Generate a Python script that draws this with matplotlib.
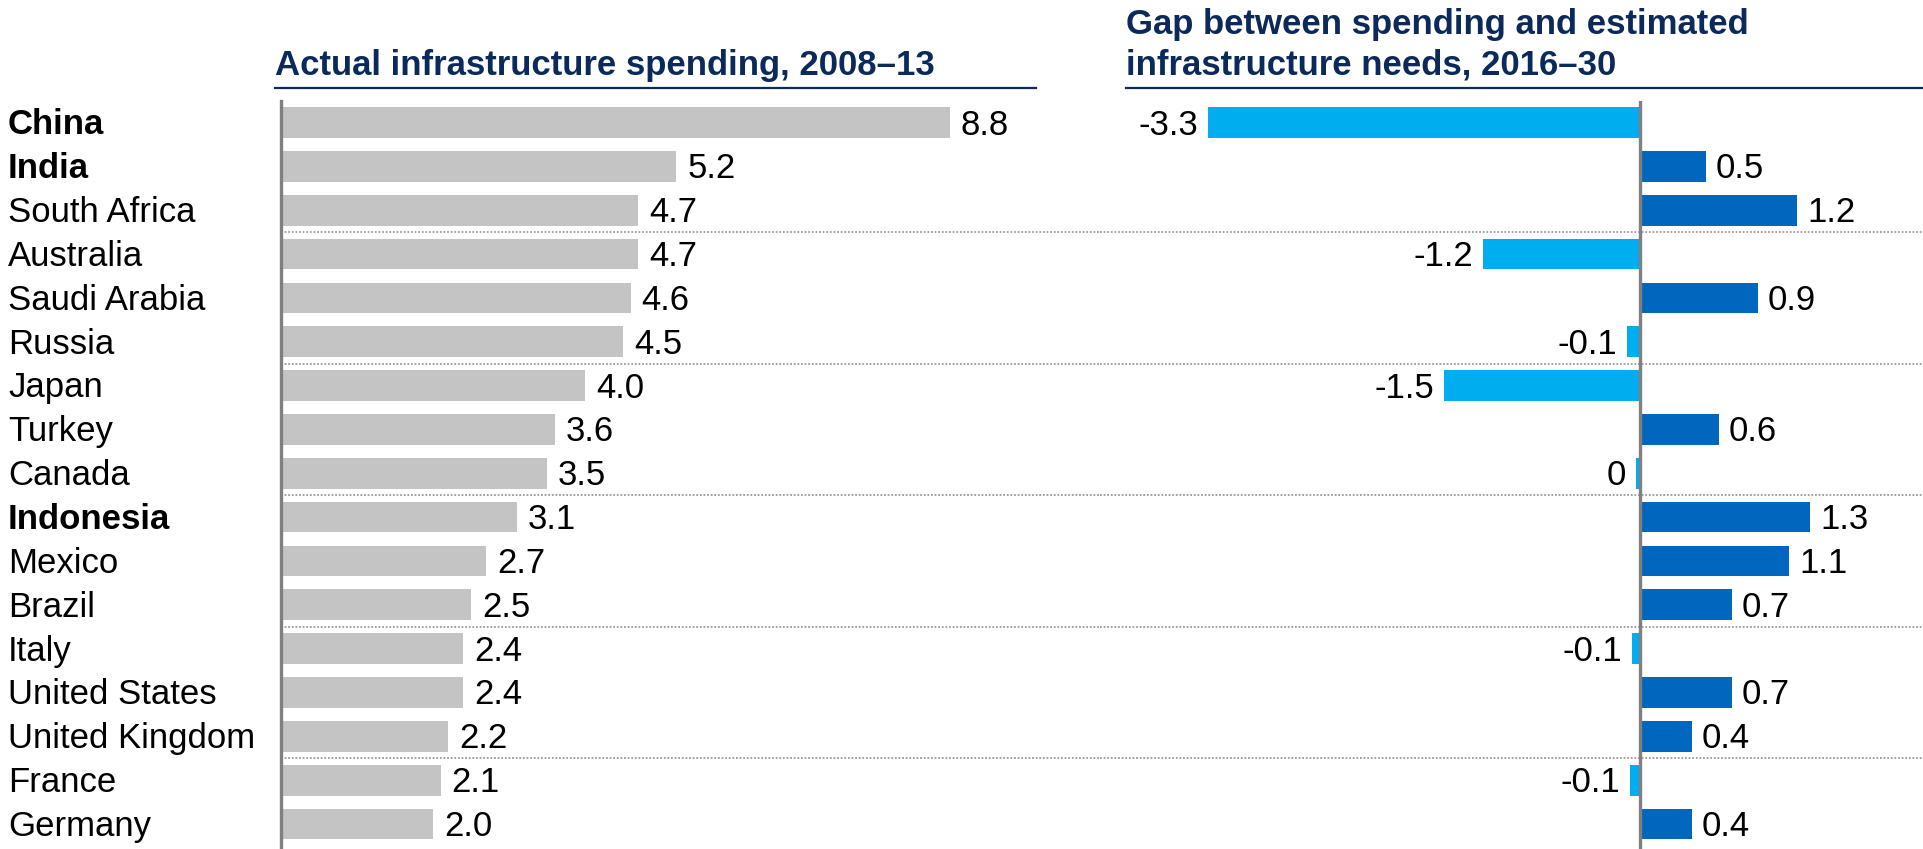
import matplotlib
matplotlib.use("Agg")
import matplotlib.pyplot as plt
from matplotlib.lines import Line2D
from matplotlib.transforms import blended_transform_factory

plt.rcParams['font.family'] = ['Liberation Sans', 'DejaVu Sans']

countries = ["China", "India", "South Africa", "Australia", "Saudi Arabia", "Russia",
             "Japan", "Turkey", "Canada", "Indonesia", "Mexico", "Brazil", "Italy",
             "United States", "United Kingdom", "France", "Germany"]
bold_countries = ["China", "India", "Indonesia"]

# % of GDP, annual averages
spending = [8.8, 5.2, 4.7, 4.7, 4.6, 4.5, 4.0, 3.6, 3.5, 3.1, 2.7, 2.5, 2.4, 2.4, 2.2, 2.1, 2.0]
gap = [-3.3, 0.5, 1.2, -1.2, 0.9, -0.1, -1.5, 0.6, -0.03, 1.3, 1.14, 0.7, -0.06, 0.7, 0.4, -0.08, 0.4]

title_left = "Actual infrastructure spending, 2008\u201313"
title_right = ["Gap between spending and estimated", "infrastructure needs, 2016\u201330"]

navy = "#0B2A5B"
bar_gray = "#C4C4C4"
neg_blue = "#00ADEF"
pos_blue = "#0066BE"
axis_gray = "#808080"
dot_gray = "#9A9A9A"
fs = 25

W, H = 1923, 849
fig = plt.figure(figsize=(W / 100, H / 100), dpi=100)

top = 1 - 100.6 / H
ax1 = fig.add_axes([281 / W, 0, (1100 - 281) / W, top])
ax2 = fig.add_axes([1100 / W, 0, (W - 1100) / W, top])

rows = list(range(len(countries)))
ylim = (16.57, -0.5)


def fmt(v):
    r = round(v, 1)
    return "0" if r == 0 else f"{r:.1f}"


# left panel
ax1.barh(rows, spending, height=0.7, color=bar_gray)
for y, v in zip(rows, spending):
    ax1.annotate(fmt(v), (v, y), xytext=(8, -1.8), textcoords="offset points",
                 ha="left", va="center", fontsize=fs)
ax1.set_xlim(0, (1100 - 281) / 76.0)

# right panel
colors = [neg_blue if v < 0 else pos_blue for v in gap]
ax2.barh(rows, gap, height=0.7, color=colors)
for y, v in zip(rows, gap):
    off = 7 if v >= 0 else -7
    ax2.annotate(fmt(v), (v, y), xytext=(off, -1.8), textcoords="offset points",
                 ha="left" if v >= 0 else "right", va="center", fontsize=fs)
ax2.set_xlim(-(1640 - 1100) / 131.0, (W - 1640) / 131.0)
ax2.axvline(0, color=axis_gray, lw=2.4, zorder=5)

for ax in (ax1, ax2):
    ax.set_ylim(*ylim)
    for y in (2.5, 5.5, 8.5, 11.5, 14.5):
        ax.axhline(y, color=dot_gray, lw=1.3, ls=(0, (1, 1)), zorder=0)
    ax.set_xticks([])
    ax.set_yticks([])
    for s in ax.spines.values():
        s.set_visible(False)
    ax.patch.set_alpha(0)

ax1.spines["left"].set_visible(True)
ax1.spines["left"].set_color(axis_gray)
ax1.spines["left"].set_linewidth(2.4)
ax1.spines["left"].set_zorder(5)

# country names
tr = blended_transform_factory(fig.transFigure, ax1.transData)
for y, name in zip(rows, countries):
    ax1.text(8 / W, y + 0.055, name, transform=tr, ha="left", va="center", fontsize=fs,
             fontweight="bold" if name in bold_countries else "normal", clip_on=False)

# panel titles with underlines
fig.text(275 / W, 1 - 75 / H, title_left, ha="left", va="baseline",
         fontsize=fs, fontweight="bold", color=navy)
fig.text(1126 / W, 1 - 34 / H, title_right[0], ha="left", va="baseline",
         fontsize=fs, fontweight="bold", color=navy)
fig.text(1126 / W, 1 - 75 / H, title_right[1], ha="left", va="baseline",
         fontsize=fs, fontweight="bold", color=navy)
yl = 1 - 87.5 / H
fig.add_artist(Line2D([275 / W, 1036 / W], [yl, yl], color=navy, lw=1.6))
fig.add_artist(Line2D([1126 / W, 1.0], [yl, yl], color=navy, lw=1.6))

fig.savefig("out.png", dpi=100)
